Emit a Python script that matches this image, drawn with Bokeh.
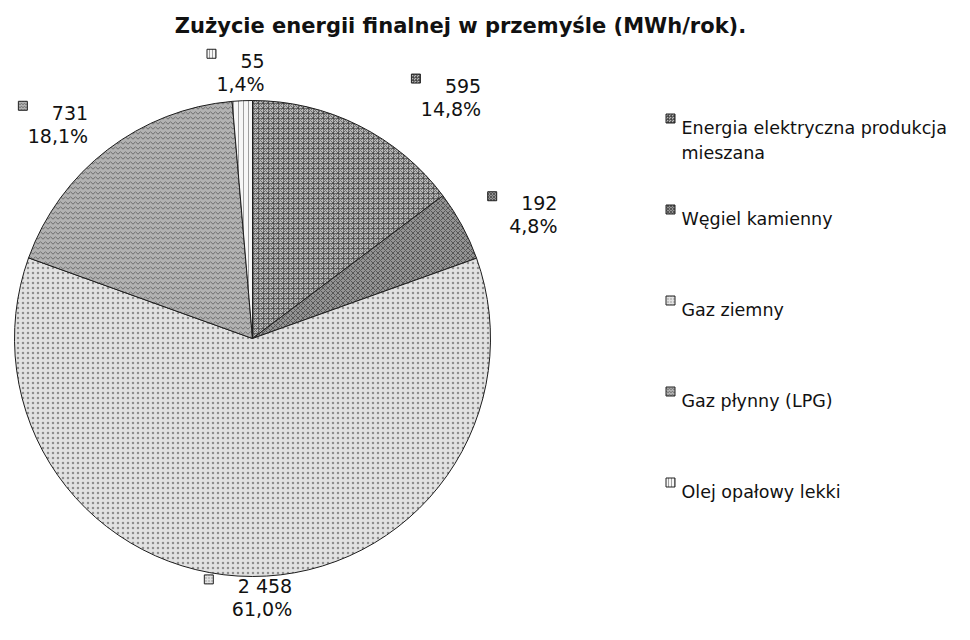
import math
import textwrap
from bokeh.plotting import figure
from bokeh.models import Range1d, ColumnDataSource
from bokeh.embed import file_html
from bokeh.resources import INLINE
from bokeh.core.properties import value

# ---------------- data ----------------
title_text = "Zużycie energii finalnej w przemyśle (MWh/rok)."
categories = [
    "Energia elektryczna produkcja mieszana",
    "Węgiel kamienny",
    "Gaz ziemny",
    "Gaz płynny (LPG)",
    "Olej opałowy lekki",
]
values = [595, 192, 2458, 731, 55]

# ---------------- styles ----------------
fill_colors = ["#b8b8b8", "#939393", "#e2e2e2", "#b2b2b2", "#f6f6f6"]
hatch_patterns = ["criss_cross", "diagonal_cross", "dot", "horizontal_wave", "vertical_line"]
hatch_colors = ["#3a3a3a", "#2e2e2e", "#555555", "#3a3a3a", "#666666"]
FONT = "DejaVu Sans"

# ---------------- layout (reference pixel coords) ----------------
W, H = 954, 624
SHIFT_Y = 5
def X(x):
    return x
def Y(y):
    return H - (y - SHIFT_Y)

CX, CY, R = 252, 343, 238
label_dist = [338, 332, 255, 276, 274]     # distance of label anchor from pie centre
label_nudge = [16, 5, -9, 1, 5]             # angular nudge of label (degrees)
LEG_SQ_X, LEG_TXT_X, LEG_BASE0, LEG_STEP, LEG_LINE = 670, 681, 132, 91, 25

total = float(sum(values))
pct_labels = [("%.1f" % (v / total * 100)).replace(".", ",") + "%" for v in values]
val_labels = ["{:,}".format(v).replace(",", " ") for v in values]

p = figure(width=W, height=H, output_backend="svg", toolbar_location=None,
           x_range=Range1d(0, W), y_range=Range1d(0, H), min_border=0)
p.axis.visible = False
p.grid.visible = False
p.outline_line_color = None
p.background_fill_color = "white"
p.border_fill_color = "white"

# wedges
starts, ends, mids = [], [], []
cum = 0.0
for v in values:
    a0 = math.pi / 2 - 2 * math.pi * cum / total
    cum += v
    a1 = math.pi / 2 - 2 * math.pi * cum / total
    starts.append(a0)
    ends.append(a1)
    mids.append((a0 + a1) / 2)

src = ColumnDataSource(dict(start=starts, end=ends, fill=fill_colors,
                            hatch=hatch_patterns, hcol=hatch_colors))
p.wedge(x=X(CX), y=Y(CY), radius=R, start_angle="start", end_angle="end",
        direction="clock", source=src, fill_color="fill", hatch_pattern="hatch",
        hatch_color="hcol", hatch_scale=5, hatch_weight=1, hatch_alpha=0.6,
        line_color="#1e1e1e", line_width=1)

# data labels
char_w = {" ": 0.318, ",": 0.318, "%": 0.95}
def text_w(s, size):
    return sum(char_w.get(c, 0.636) for c in s) * size

LBL_SIZE = 19
lx, ly1, ly2, sqx, sqy = [], [], [], [], []
for i, m in enumerate(mids):
    a = m + math.radians(-label_nudge[i])
    ax = CX + label_dist[i] * math.cos(a)
    ay = CY - label_dist[i] * math.sin(a)
    lx.append(X(ax))
    ly1.append(Y(ay - 4))
    ly2.append(Y(ay + 19))
    sqx.append(X(ax - text_w(val_labels[i], LBL_SIZE) - 29))
    sqy.append(Y(ay - 11))

p.rect(x=sqx, y=sqy, width=9, height=9, fill_color=fill_colors,
       hatch_pattern=hatch_patterns, hatch_color=hatch_colors, hatch_scale=3,
       hatch_alpha=0.6, line_color="#222222", line_width=1)
p.text(x=lx, y=ly1, text=val_labels, text_font=value(FONT),
       text_font_size="%dpx" % LBL_SIZE, text_align="right",
       text_baseline="alphabetic", text_color="#111111")
p.text(x=lx, y=ly2, text=pct_labels, text_font=value(FONT),
       text_font_size="%dpx" % LBL_SIZE, text_align="right",
       text_baseline="alphabetic", text_color="#111111")

# legend
lgx, lgy, lgt = [], [], []
lsx, lsy = [], []
for i, c in enumerate(categories):
    base = LEG_BASE0 + i * LEG_STEP
    lines = textwrap.wrap(c, 29)
    for j, ln in enumerate(lines):
        lgx.append(X(LEG_TXT_X))
        lgy.append(Y(base + j * LEG_LINE))
        lgt.append(ln)
    lsx.append(X(LEG_SQ_X))
    lsy.append(Y(base - 9))
p.rect(x=lsx, y=lsy, width=9, height=9, fill_color=fill_colors,
       hatch_pattern=hatch_patterns, hatch_color=hatch_colors, hatch_scale=3,
       hatch_alpha=0.6, line_color="#222222", line_width=1)
p.text(x=lgx, y=lgy, text=lgt, text_font=value(FONT), text_font_size="17.5px",
       text_align="left", text_baseline="alphabetic", text_color="#111111")

# title
p.text(x=[X(460)], y=[Y(30)], text=[title_text], text_font=value(FONT),
       text_font_size="21px", text_font_style="bold", text_align="center",
       text_baseline="alphabetic", text_color="#111111")

open("out.html", "w").write(file_html(p, INLINE))
